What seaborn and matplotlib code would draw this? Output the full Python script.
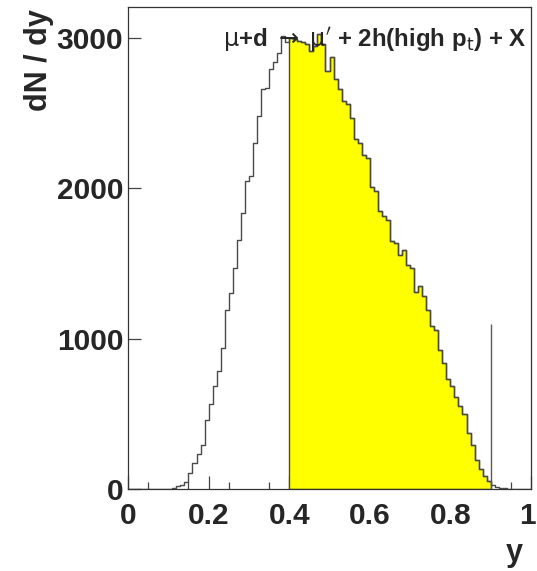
import numpy as np
import pandas as pd
import matplotlib
matplotlib.use("Agg")
import matplotlib.pyplot as plt
import matplotlib.transforms as mtransforms
import seaborn as sns

# Rapidity distribution, 100 bins of width 0.01 on [0, 1]
bin_width = 0.01
counts = [
    0, 0, 0, 0, 0, 0, 0, 0, 0, 1,                                  # 0.00 - 0.09
    3, 8, 18, 27, 49, 109, 176, 231, 291, 456,                     # 0.10 - 0.19
    567, 687, 787, 938, 1190, 1304, 1471, 1660, 1838, 2049,        # 0.20 - 0.29
    2082, 2304, 2482, 2660, 2671, 2793, 2842, 2904, 3011, 2971,    # 0.30 - 0.39
    3004, 2993, 2982, 2971, 2960, 2916, 2949, 3027, 2960, 2782,    # 0.40 - 0.49
    2871, 2727, 2660, 2582, 2560, 2471, 2327, 2300, 2220, 2204,    # 0.50 - 0.59
    2010, 1982, 1849, 1816, 1793, 1652, 1638, 1560, 1593, 1493,    # 0.60 - 0.69
    1471, 1310, 1349, 1282, 1190, 1082, 1060, 927, 838, 732,       # 0.70 - 0.79
    688, 610, 555, 500, 371, 293, 193, 132, 88, 55,                # 0.80 - 0.89
    25, 15, 8, 4, 2, 0, 0, 0, 0, 0,                                # 0.90 - 0.99
]

# Accepted rapidity window and the cut marker
window_lo, window_hi = 0.40, 0.90
cut_marker_height = 1100

x_ticks = [0, 0.2, 0.4, 0.6, 0.8, 1.0]
x_tick_labels = ["0", "0.2", "0.4", "0.6", "0.8", "1"]
y_ticks = [0, 1000, 2000, 3000]
y_tick_labels = ["0", "1000", "2000", "3000"]

title_text = (r"$\mathrm{\mu}$+d $\rightarrow$ $\mathrm{\mu}^{\prime}$"
              r" + 2h(high p$_{\mathrm{t}}$) + X")

n_bins = len(counts)
edges = np.round(np.arange(n_bins + 1) * bin_width, 4)
centers = edges[:-1] + bin_width / 2
df = pd.DataFrame({"y": centers, "dNdy": counts})
sel = (df["y"] > window_lo) & (df["y"] < window_hi)
win_edges = [float(e) for e in edges if window_lo - 1e-9 <= e <= window_hi + 1e-9]
all_edges = [float(e) for e in edges]

sns.set_theme(style="ticks")
plt.rcParams["font.family"] = ["Liberation Sans", "DejaVu Sans"]
plt.rcParams["mathtext.fontset"] = "dejavusans"

fig = plt.figure(figsize=(5.37, 5.71), dpi=100)
ax = fig.add_axes([128 / 537, 82 / 571, (531 - 128) / 537, (489 - 7) / 571])

# Filled histogram inside the accepted window
sns.histplot(data=df[sel], x="y", weights="dNdy", bins=win_edges,
             element="step", fill=True, facecolor="#ffff00",
             edgecolor="#4d4d26", linewidth=1.0, alpha=1.0, ax=ax, zorder=2)

# Full distribution as an outline
sns.histplot(data=df, x="y", weights="dNdy", bins=all_edges,
             element="step", fill=False, color="#4a4a4a",
             linewidth=1.0, ax=ax, zorder=3)

ax.vlines(window_hi, 0, cut_marker_height, color="#5a5a5a", linewidth=1.0, zorder=3)

ax.set_xlim(0, 1)
ax.set_ylim(0, 3207)

ax.set_xticks(x_ticks)
ax.set_xticklabels(x_tick_labels)
ax.set_xticks(np.arange(0.05, 1.0, 0.1), minor=True)
ax.set_yticks(y_ticks)
ax.set_yticklabels(y_tick_labels)

for side in ["left", "right", "top", "bottom"]:
    ax.spines[side].set_visible(True)
    ax.spines[side].set_color("#333333")
    ax.spines[side].set_linewidth(0.9)

ax.tick_params(axis="both", which="major", direction="in", length=9.4, width=0.9,
               color="#444444", labelsize=21.5)
ax.tick_params(axis="y", which="major", pad=3.5)
ax.tick_params(axis="x", which="major", pad=9)
ax.tick_params(axis="x", which="minor", direction="in", length=5, width=0.9,
               color="#444444")
for lab in ax.get_xticklabels() + ax.get_yticklabels():
    lab.set_fontweight("bold")

# keep the last x label inside the canvas
last = ax.get_xticklabels()[-1]
last.set_transform(last.get_transform() +
                   mtransforms.ScaledTranslation(-4 / 100, 0, fig.dpi_scale_trans))

ax.set_xlabel("")
ax.set_ylabel("")
fig.text(39 / 537, 1 - 9 / 571, "dN / dy", rotation=90, ha="center", va="top",
         fontsize=22, fontweight="bold")
fig.text(523 / 537, 1 - 553 / 571, "y", ha="right", va="center",
         fontsize=22, fontweight="bold")

ax.text(0.989, 2990, title_text, ha="right", va="center", fontsize=17.3,
        fontweight="bold", zorder=5)

fig.savefig("out.png", dpi=100, facecolor="white")
